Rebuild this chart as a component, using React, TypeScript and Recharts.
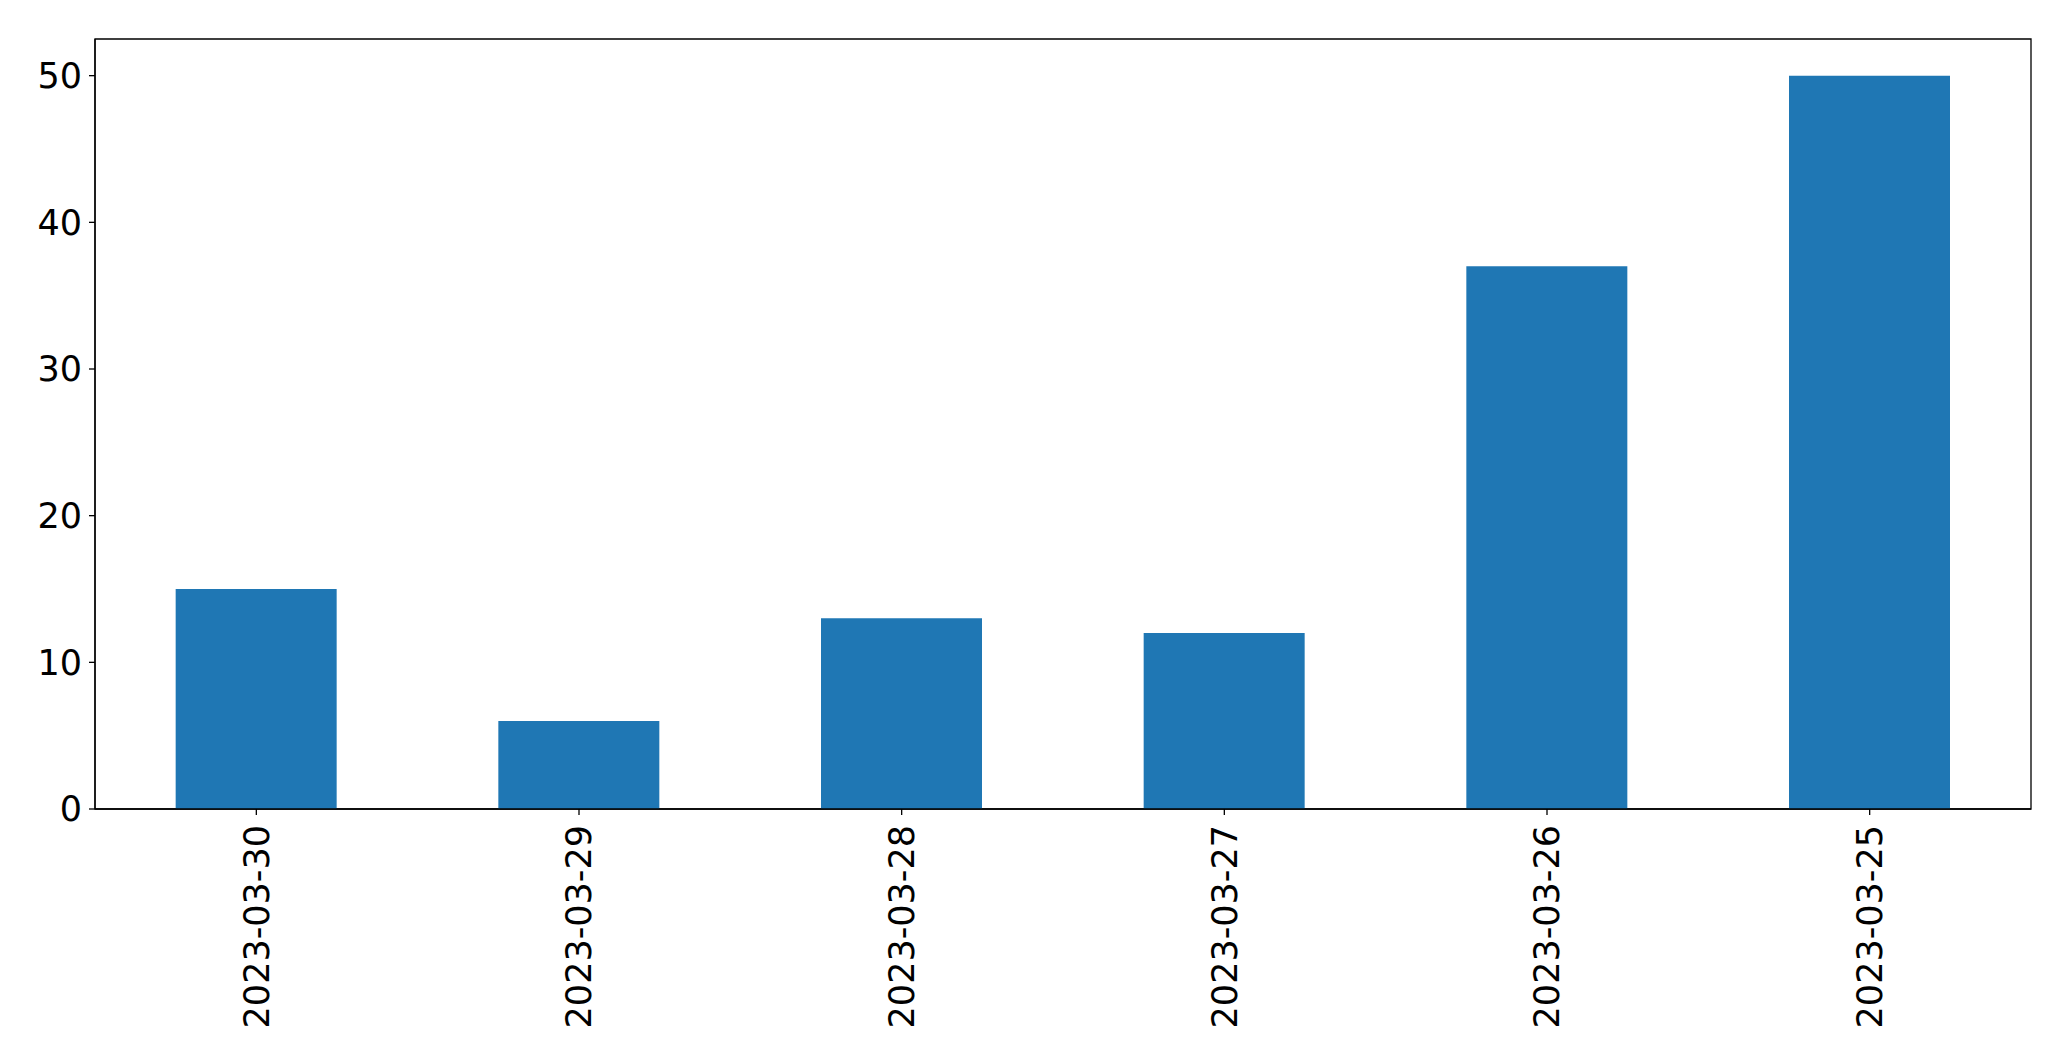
import { BarChart, Bar, XAxis, YAxis, ReferenceArea } from "recharts";

const dates = ["2023-03-30", "2023-03-29", "2023-03-28", "2023-03-27", "2023-03-26", "2023-03-25"];
const counts = [15, 6, 13, 12, 37, 50];
const yTicks = [0, 10, 20, 30, 40, 50];

const data = dates.map((d, i) => ({ date: d, count: counts[i] }));

const FONT = "DejaVu Sans";

function DateTick(props: any) {
  const { x, y, payload } = props;
  return (
    <text
      transform={`translate(${x},${y}) rotate(-90)`}
      textAnchor="end"
      dy="0.355em"
      fontFamily={FONT}
      fontSize={35}
      fill="#000"
    >
      {payload.value}
    </text>
  );
}

export default function App() {
  return (
    <div style={{ position: "absolute", left: 0, top: 0, background: "#fff" }}>
      <BarChart
        width={2071}
        height={1061}
        data={data}
        margin={{ top: 39, right: 40, bottom: 0, left: 0 }}
        barCategoryGap="25%"
      >
        <XAxis
          dataKey="date"
          height={252}
          tick={<DateTick />}
          tickSize={6}
          tickMargin={10}
          interval={0}
          axisLine={{ stroke: "#000", strokeWidth: 1.3 }}
          tickLine={{ stroke: "#000", strokeWidth: 1.3 }}
        />
        <YAxis
          width={95}
          domain={[0, 52.5]}
          ticks={yTicks}
          tickSize={6}
          tickMargin={7}
          tick={{ fontFamily: FONT, fontSize: 35, fill: "#000" }}
          axisLine={{ stroke: "#000", strokeWidth: 1.3 }}
          tickLine={{ stroke: "#000", strokeWidth: 1.3 }}
        />
        <Bar dataKey="count" fill="#1f77b4" isAnimationActive={false} />
        <ReferenceArea
          y1={0}
          y2={52.5}
          fill="none"
          fillOpacity={0}
          stroke="#000"
          strokeWidth={1.3}
          ifOverflow="visible"
        />
      </BarChart>
    </div>
  );
}
